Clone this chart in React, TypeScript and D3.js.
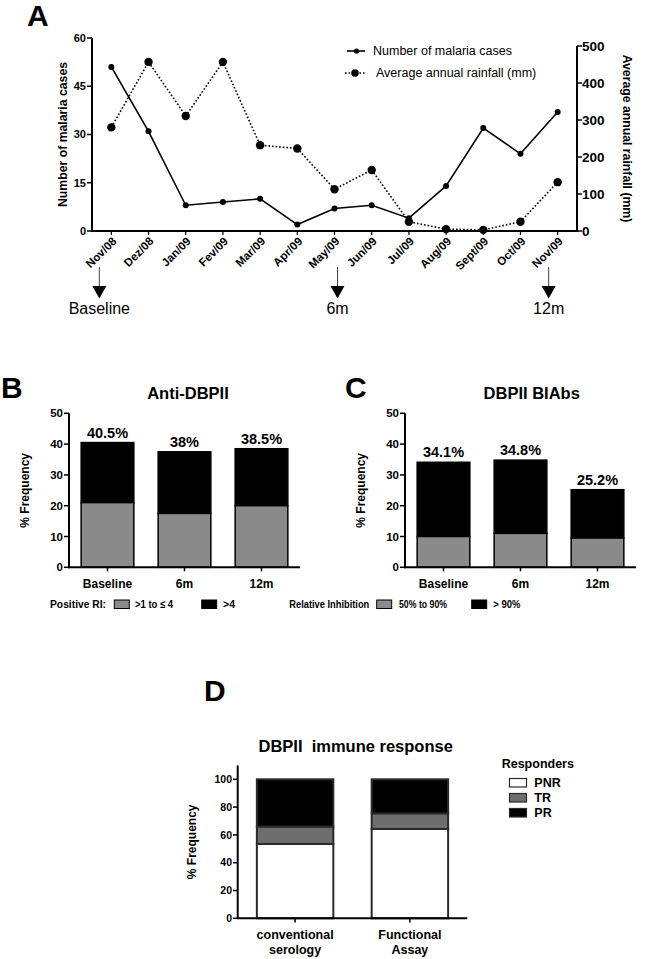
import React from "react";
import * as d3 from "d3";

// ---------- Panel A data ----------
const months = ["Nov/08", "Dez/08", "Jan/09", "Fev/09", "Mar/09", "Apr/09", "May/09", "Jun/09", "Jul/09", "Aug/09", "Sept/09", "Oct/09", "Nov/09"];
const malariaCases = [51, 31, 8, 9, 10, 2, 7, 8, 4, 14, 32, 24, 37];
const rainfall = [280, 457, 311, 457, 232, 223, 113, 165, 25, 5, 3, 25, 132];
const casesTicks = [0, 15, 30, 45, 60];
const rainTicks = [0, 100, 200, 300, 400, 500];
const timepoints = [
  { month: "Nov/08", label: "Baseline", dx: -12 },
  { month: "May/09", label: "6m", dx: 3 },
  { month: "Nov/09", label: "12m", dx: -9 },
];

// ---------- Panel B data ----------
const visits = ["Baseline", "6m", "12m"];
const antiLow = [21, 17.5, 20];
const antiTotal = [40.5, 37.5, 38.5];
const antiLabels = ["40.5%", "38%", "38.5%"];

// ---------- Panel C data ----------
const biaLow = [10, 11, 9.5];
const biaTotal = [34.1, 34.8, 25.2];
const biaLabels = ["34.1%", "34.8%", "25.2%"];
const pctTicks = [0, 10, 20, 30, 40, 50];

// ---------- Panel D data ----------
const assays = [["conventional", "serology"], ["Functional", "Assay"]];
const pnr = [53.5, 64.3];
const tr = [12.5, 11.2];
const pr = [34, 24.5];
const dTicks = [0, 20, 40, 60, 80, 100];
const responders = ["PNR", "TR", "PR"];

const FONT = "'Liberation Sans', Arial, Helvetica, sans-serif";
const GREY = "#8a8a8a";
const DGREY = "#6e6e6e";

function BarPanel({ left, right, letter, letterX, title, titleX, low, total, labels, legendTitle, legendItems, legendPos }: any) {
  const y = d3.scaleLinear().domain([0, 50]).range([567.3, 413.3]);
  const x = d3.scaleBand().domain(visits).range([left, right]).paddingInner(0.316).paddingOuter(0.158);
  return (
    <g>
      <text x={letterX} y={398} fontSize={30} fontWeight="bold">{letter}</text>
      <text x={titleX} y={399} fontSize={16.5} fontWeight="bold" textAnchor="middle">{title}</text>
      {visits.map((v, i) => (
        <g key={v}>
          <rect x={x(v)} y={y(total[i])} width={x.bandwidth()} height={y(low[i]) - y(total[i])} fill="#000" stroke="#000" strokeWidth={1.5} />
          <rect x={x(v)} y={y(low[i])} width={x.bandwidth()} height={y(0) - y(low[i])} fill={GREY} stroke="#000" strokeWidth={1.5} />
          <text x={x(v)! + x.bandwidth() / 2} y={y(total[i]) - 5} fontSize={14.5} fontWeight="bold" textAnchor="middle">{labels[i]}</text>
          <line x1={x(v)! + x.bandwidth() / 2} x2={x(v)! + x.bandwidth() / 2} y1={y(0)} y2={y(0) + 4} stroke="#000" strokeWidth={1.5} />
          <text x={x(v)! + x.bandwidth() / 2} y={588} fontSize={12} fontWeight="bold" textAnchor="middle">{v}</text>
        </g>
      ))}
      <line x1={left} x2={left} y1={y(0) + 1} y2={y(50)} stroke="#000" strokeWidth={2} />
      <line x1={left - 1} x2={right} y1={y(0)} y2={y(0)} stroke="#000" strokeWidth={2} />
      {pctTicks.map((t) => (
        <g key={t}>
          <line x1={left - 5} x2={left} y1={y(t)} y2={y(t)} stroke="#000" strokeWidth={1.5} />
          <text x={left - 6} y={y(t)} dy="0.35em" fontSize={11.5} fontWeight="bold" textAnchor="end">{t}</text>
        </g>
      ))}
      <text transform={`translate(${left - 44},${(y(0) + y(50)) / 2}) rotate(-90)`} dy="0.35em" fontSize={12} fontWeight="bold" textAnchor="middle">% Frequency</text>
      <text x={legendPos.title} y={608} fontSize={11} fontWeight="bold" textLength={legendPos.len} lengthAdjust="spacingAndGlyphs">{legendTitle}</text>
      {legendItems.map((it: any, i: number) => (
        <g key={i}>
          <rect x={it.box} y={600} width={15} height={8.5} fill={it.color} stroke="#000" strokeWidth={1} />
          <text x={it.text} y={608} fontSize={11} fontWeight="bold" textLength={it.len} lengthAdjust="spacingAndGlyphs">{it.label}</text>
        </g>
      ))}
    </g>
  );
}

export default function App() {
  // Panel A scales
  const xA = d3.scalePoint().domain(months).range([92, 577]).padding(0.52);
  const yL = d3.scaleLinear().domain([0, 60]).range([231, 38]);
  const yR = d3.scaleLinear().domain([0, 500]).range([231, 46]);
  const casesLine = d3.line<number>().x((_, i) => xA(months[i])!).y((d) => yL(d));
  const rainLine = d3.line<number>().x((_, i) => xA(months[i])!).y((d) => yR(d));

  // Panel D scales
  const yD = d3.scaleLinear().domain([0, 100]).range([918.3, 779.3]);
  const xD = d3.scaleBand().domain(["cs", "fa"]).range([237.7, 467.3]).paddingInner(0.334).paddingOuter(0.167);
  const dKeys = ["cs", "fa"];
  const dFill = ["#fff", DGREY, "#000"];

  return (
    <svg width={667} height={959} style={{ position: "absolute", left: 0, top: 0, background: "#fff" }} fontFamily={FONT}>
      <rect width={667} height={959} fill="#fff" />
      {/* ---------- Panel A ---------- */}
      <text x={27} y={26} fontSize={30} fontWeight="bold">A</text>
      <path d={rainLine(rainfall)!} fill="none" stroke="#000" strokeWidth={1.6} strokeDasharray="1.6,2" />
      <path d={casesLine(malariaCases)!} fill="none" stroke="#000" strokeWidth={1.6} />
      {rainfall.map((r, i) => (
        <circle key={"r" + i} cx={xA(months[i])} cy={yR(r)} r={4.2} fill="#000" />
      ))}
      {malariaCases.map((c, i) => (
        <circle key={"c" + i} cx={xA(months[i])} cy={yL(c)} r={3} fill="#000" />
      ))}
      {/* axes */}
      <line x1={92} x2={92} y1={yL(0) + 1} y2={yL(60)} stroke="#000" strokeWidth={2} />
      <line x1={577} x2={577} y1={yR(0) + 1} y2={yR(500)} stroke="#000" strokeWidth={2} />
      <line x1={91} x2={578} y1={231} y2={231} stroke="#000" strokeWidth={2} />
      {casesTicks.map((t) => (
        <g key={"lt" + t}>
          <line x1={87} x2={92} y1={yL(t)} y2={yL(t)} stroke="#000" strokeWidth={1.5} />
          <text x={86} y={yL(t)} dy="0.35em" fontSize={11} fontWeight="bold" textAnchor="end">{t}</text>
        </g>
      ))}
      {rainTicks.map((t) => (
        <g key={"rt" + t}>
          <line x1={577} x2={582} y1={yR(t)} y2={yR(t)} stroke="#000" strokeWidth={1.5} />
          <text x={582} y={yR(t)} dy="0.35em" fontSize={13.5} fontWeight="bold">{t}</text>
        </g>
      ))}
      {months.map((m) => (
        <g key={m}>
          <line x1={xA(m)} x2={xA(m)} y1={231} y2={235} stroke="#000" strokeWidth={1.2} />
          <text transform={`translate(${xA(m)! + 3},${239}) rotate(-45)`} dy="0.35em" fontSize={11.5} fontWeight="bold" textAnchor="end">{m}</text>
        </g>
      ))}
      <text transform={`translate(63,${(yL(0) + yL(60)) / 2}) rotate(-90)`} dy="0.35em" fontSize={12.25} fontWeight="bold" textAnchor="middle">Number of malaria cases</text>
      <text transform={`translate(627,${(yR(0) + yR(500)) / 2}) rotate(90)`} dy="0.35em" fontSize={12.25} fontWeight="bold" textAnchor="middle">Average annual rainfall (mm)</text>
      {/* legend */}
      <line x1={347} x2={365} y1={51} y2={51} stroke="#000" strokeWidth={1.6} />
      <circle cx={356.5} cy={51} r={2.6} fill="#000" />
      <text x={373} y={51} dy="0.35em" fontSize={12.5}>Number of malaria cases</text>
      <line x1={345} x2={366} y1={73} y2={73} stroke="#000" strokeWidth={1.6} strokeDasharray="1.6,2" />
      <circle cx={355} cy={73} r={3.8} fill="#000" />
      <text x={376} y={73} dy="0.35em" fontSize={12.5}>Average annual rainfall (mm)</text>
      {/* time point arrows */}
      {timepoints.map((tp) => {
        const ax = xA(tp.month)! + tp.dx;
        return (
          <g key={tp.label}>
            <line x1={ax} x2={ax} y1={267} y2={287} stroke="#444" strokeWidth={1} />
            <path d={`M${ax - 7},286 L${ax + 7},286 L${ax},298.5 Z`} fill="#000" />
            <text x={ax} y={313.5} fontSize={16} textAnchor="middle">{tp.label}</text>
          </g>
        );
      })}

      {/* ---------- Panel B ---------- */}
      <BarPanel left={69} right={300} letter="B" letterX={1} title="Anti-DBPII" titleX={188} low={antiLow} total={antiTotal} labels={antiLabels}
        legendTitle="Positive RI:" legendPos={{ title: 50, len: 56 }}
        legendItems={[
          { box: 114.3, text: 135, len: 38, color: GREY, label: ">1 to ≤ 4" },
          { box: 201.7, text: 223, len: 12, color: "#000", label: ">4" },
        ]} />
      {/* ---------- Panel C ---------- */}
      <BarPanel left={405} right={636} letter="C" letterX={345} title="DBPII BIAbs" titleX={531.7} low={biaLow} total={biaTotal} labels={biaLabels}
        legendTitle="Relative Inhibition" legendPos={{ title: 289.3, len: 80 }}
        legendItems={[
          { box: 376.7, text: 399, len: 48, color: GREY, label: "50% to 90%" },
          { box: 471.7, text: 493.3, len: 27, color: "#000", label: "> 90%" },
        ]} />

      {/* ---------- Panel D ---------- */}
      <text x={204} y={701} fontSize={30} fontWeight="bold">D</text>
      <text x={355.7} y={751.5} fontSize={16.5} fontWeight="bold" textAnchor="middle" style={{ whiteSpace: "pre" }}>{"DBPII  immune response"}</text>
      {dKeys.map((k, i) => {
        const segs = [pnr[i], tr[i], pr[i]];
        let acc = 0;
        const cx = xD(k)! + xD.bandwidth() / 2;
        return (
          <g key={k}>
            {segs.map((s, j) => {
              const y0 = acc;
              acc += s;
              return <rect key={j} x={xD(k)} y={yD(Math.min(acc, 100))} width={xD.bandwidth()} height={yD(y0) - yD(Math.min(acc, 100))} fill={dFill[j]} stroke="#2a2a2a" strokeWidth={2} />;
            })}
            <line x1={cx} x2={cx} y1={918.3} y2={922.5} stroke="#000" strokeWidth={1.5} />
            <text x={cx} y={938.5} fontSize={12.5} fontWeight="bold" textAnchor="middle">{assays[i][0]}</text>
            <text x={cx} y={953.5} fontSize={12.5} fontWeight="bold" textAnchor="middle">{assays[i][1]}</text>
          </g>
        );
      })}
      <line x1={237.7} x2={237.7} y1={919} y2={yD(110)} stroke="#000" strokeWidth={2} />
      <line x1={236.7} x2={467.3} y1={918.3} y2={918.3} stroke="#000" strokeWidth={2} />
      {dTicks.map((t) => (
        <g key={"dt" + t}>
          <line x1={233} x2={237.7} y1={yD(t)} y2={yD(t)} stroke="#000" strokeWidth={1.5} />
          <text x={232} y={yD(t)} dy="0.35em" fontSize={10.5} fontWeight="bold" textAnchor="end">{t}</text>
        </g>
      ))}
      <text transform={`translate(191.7,${(yD(0) + yD(110)) / 2}) rotate(-90)`} dy="0.35em" fontSize={12} fontWeight="bold" textAnchor="middle">% Frequency</text>
      <text x={501.7} y={767.5} fontSize={12.5} fontWeight="bold">Responders</text>
      {responders.map((r, i) => (
        <g key={r}>
          <rect x={509.5} y={778.5 + i * 15} width={17} height={8.5} fill={dFill[i]} stroke="#2a2a2a" strokeWidth={1.2} />
          <text x={534.3} y={782.8 + i * 14.8} dy="0.35em" fontSize={12.5} fontWeight="bold">{r}</text>
        </g>
      ))}
    </svg>
  );
}
